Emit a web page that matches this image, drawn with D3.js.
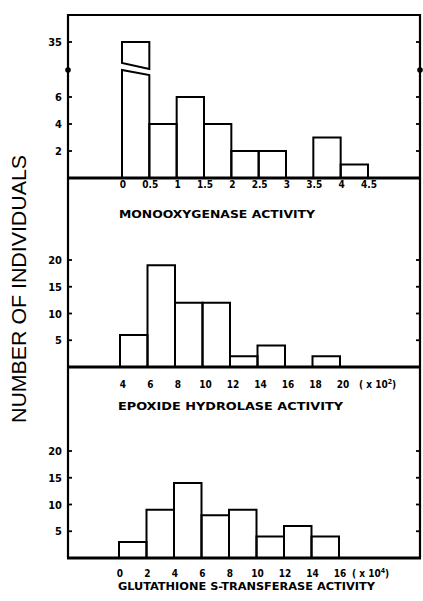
<!DOCTYPE html>
<html><head><meta charset="utf-8">
<script src="https://cdn.jsdelivr.net/npm/d3@7/dist/d3.min.js"></script>
<style>
html,body{margin:0;padding:0;background:#fff;}
svg{display:block;}
.lab{font-family:"DejaVu Sans Condensed","Liberation Sans Narrow","Liberation Sans",Arial,sans-serif;font-weight:bold;fill:#000;}
</style></head>
<body>
<svg id="c" width="423" height="601"></svg>
<script>
// ---- data ----
const monoEdges = [0, 0.5, 1, 1.5, 2, 2.5, 3, 3.5, 4, 4.5];
const monoCounts = [35, 4, 6, 4, 2, 2, 0, 3, 1];
const monoTickLabels = ["0", "0.5", "1", "1.5", "2", "2.5", "3", "3.5", "4", "4.5"];
const monoYTicks = [2, 4, 6];
const monoYTickHigh = [35];

const epoxEdges = [4, 6, 8, 10, 12, 14, 16, 18, 20];
const epoxCounts = [6, 19, 12, 12, 2, 4, 0, 2];
const epoxTickLabels = ["4", "6", "8", "10", "12", "14", "16", "18", "20"];
const epoxYTicks = [5, 10, 15, 20];

const gstEdges = [0, 2, 4, 6, 8, 10, 12, 14, 16];
const gstCounts = [3, 9, 14, 8, 9, 4, 6, 4];
const gstTickLabels = ["0", "2", "4", "6", "8", "10", "12", "14", "16"];
const gstYTicks = [5, 10, 15, 20];

const titles = ["MONOOXYGENASE ACTIVITY", "EPOXIDE HYDROLASE ACTIVITY", "GLUTATHIONE S-TRANSFERASE ACTIVITY"];
const yTitle = "NUMBER OF INDIVIDUALS";

// ---- layout ----
const svg = d3.select("#c");
const L = 68, R = 420, T = 15;
const bases = [178, 367, 558];

// frame
svg.append("path")
  .attr("d", `M${L},${bases[2]}V${T}H${R}V${bases[2]}`)
  .attr("fill", "none").attr("stroke", "#000").attr("stroke-width", 2.2);
bases.forEach(b => svg.append("line").attr("x1", L - 1).attr("x2", R + 1).attr("y1", b).attr("y2", b)
  .attr("stroke", "#000").attr("stroke-width", 2.8));

function yTicksDraw(vals, y, labels) {
  vals.forEach((v, i) => {
    const yy = y(v);
    svg.append("line").attr("x1", L).attr("x2", L + 4).attr("y1", yy).attr("y2", yy).attr("stroke", "#000").attr("stroke-width", 1.8);
    svg.append("line").attr("x1", R - 4).attr("x2", R).attr("y1", yy).attr("y2", yy).attr("stroke", "#000").attr("stroke-width", 1.8);
    svg.append("text").attr("class", "lab").attr("x", 62).attr("y", yy + 4)
      .attr("text-anchor", "end").attr("font-size", 11).text(labels ? labels[i] : v);
  });
}

function barsDraw(edges, counts, x, y, base, skipFirst) {
  counts.forEach((c, i) => {
    if (c === 0 || (skipFirst && i === 0)) return;
    const x0 = x(edges[i]), x1 = x(edges[i + 1]);
    svg.append("path").attr("d", `M${x0},${base}V${y(c)}H${x1}V${base}`)
      .attr("fill", "none").attr("stroke", "#000").attr("stroke-width", 2);
  });
}

function xLabelsDraw(edges, labels, x, ty, dx) {
  edges.forEach((e, i) => {
    svg.append("text").attr("class", "lab").attr("x", x(e) + dx).attr("y", ty)
      .attr("text-anchor", "middle").attr("font-size", 10).text(labels[i]);
  });
}

function titleDraw(t, x0, x1, ty) {
  svg.append("text").attr("class", "lab").attr("x", x0).attr("y", ty).attr("font-size", 10.5)
    .attr("textLength", x1 - x0).attr("lengthAdjust", "spacingAndGlyphs").text(t);
}

function unitDraw(x0, ty, exp) {
  const t = svg.append("text").attr("class", "lab").attr("x", x0).attr("y", ty).attr("font-size", 10);
  t.append("tspan").text("( x 10");
  t.append("tspan").attr("dy", -4).attr("font-size", 7).text(exp);
  t.append("tspan").attr("dy", 4).text(")");
}

// ---- panel 1 (broken axis) ----
const x1s = d3.scaleLinear().domain([0, 4.5]).range([122, 368]);
const y1Low = d3.scaleLinear().domain([0, 8]).range([bases[0], 70]);
const y1Up = d3.scaleLinear().domain([31, 35]).range([66, 42]);
yTicksDraw(monoYTicks, y1Low);
yTicksDraw(monoYTickHigh, y1Up);
barsDraw(monoEdges, monoCounts, x1s, y1Low, bases[0], true);
{
  const xa = x1s(monoEdges[0]), xb = x1s(monoEdges[1]);
  const yl = y1Low(8);
  svg.append("path").attr("d", `M${xa},${bases[0]}V${yl}L${xb},${yl + 5}V${bases[0]}`)
    .attr("fill", "none").attr("stroke", "#000").attr("stroke-width", 2);
  const yu = y1Up(31.5);
  svg.append("path").attr("d", `M${xa},${yu}V${y1Up(monoCounts[0])}H${xb}V${yu + 6}Z`)
    .attr("fill", "none").attr("stroke", "#000").attr("stroke-width", 2);
  // break markers
  [L, R].forEach(xx => svg.append("circle").attr("cx", xx).attr("cy", 70).attr("r", 2.8).attr("fill", "#000"));
}
xLabelsDraw(monoEdges, monoTickLabels, x1s, 188, 1);
titleDraw(titles[0], 119, 315, 218);

// ---- panel 2 ----
const x2s = d3.scaleLinear().domain([4, 20]).range([120, 340]);
const y2 = d3.scaleLinear().domain([0, 20]).range([bases[1], bases[1] - 107]);
yTicksDraw(epoxYTicks, y2);
barsDraw(epoxEdges, epoxCounts, x2s, y2, bases[1], false);
xLabelsDraw(epoxEdges, epoxTickLabels, x2s, 388, 3);
unitDraw(359, 388, "2");
titleDraw(titles[1], 118, 343, 410);

// ---- panel 3 ----
const x3s = d3.scaleLinear().domain([0, 16]).range([119, 339]);
const y3 = d3.scaleLinear().domain([0, 20]).range([bases[2], bases[2] - 107]);
yTicksDraw(gstYTicks, y3);
barsDraw(gstEdges, gstCounts, x3s, y3, bases[2], false);
xLabelsDraw(gstEdges, gstTickLabels, x3s, 577, 1);
unitDraw(352, 577, "4");
titleDraw(titles[2], 118, 375, 590);

// y axis title
svg.append("text").attr("transform", "translate(26,289) rotate(-90)")
  .attr("text-anchor", "middle").attr("font-family", "'Liberation Sans',Arial,sans-serif")
  .attr("font-size", 20).attr("textLength", 268).attr("lengthAdjust", "spacingAndGlyphs")
  .text(yTitle);
</script>
</body></html>
